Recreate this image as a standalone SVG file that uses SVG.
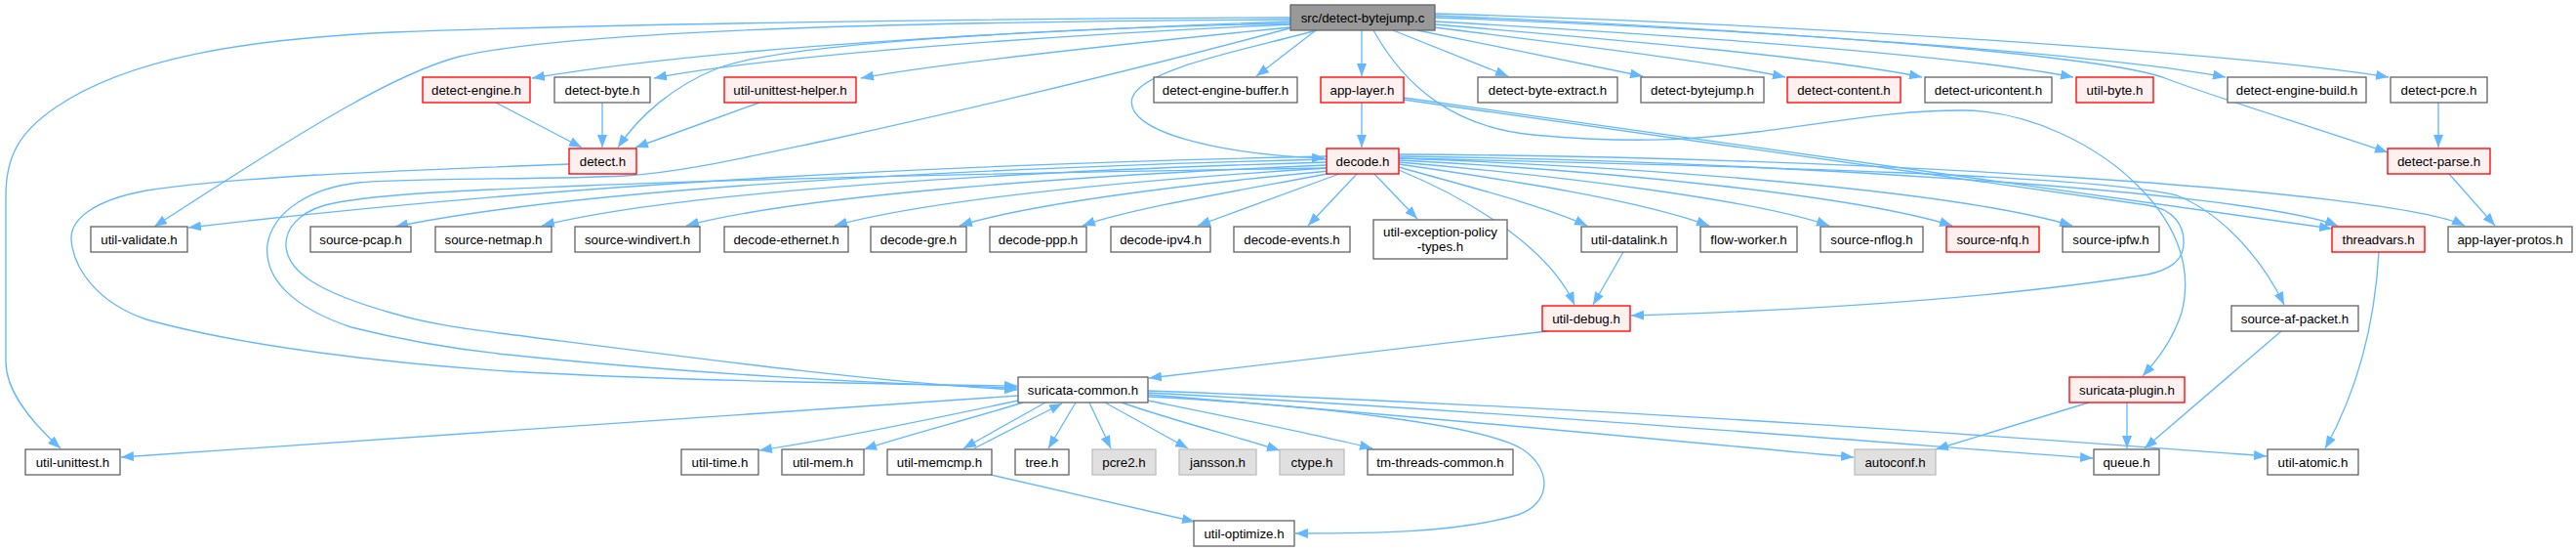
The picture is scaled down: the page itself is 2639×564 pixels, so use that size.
<svg xmlns="http://www.w3.org/2000/svg" width="2639" height="564" viewBox="0 0 2639 564">
<style>
.n rect{fill:#ffffff;stroke:#666666;stroke-width:1.33}
.r rect{fill:#fff0f0;stroke:#ff0000;stroke-width:1.33}
.g rect{fill:#e0e0e0;stroke:#bfbfbf;stroke-width:1.33}
.root rect{fill:#999999;stroke:#666666;stroke-width:1.33}
text{font-family:"Liberation Sans",Arial,Helvetica,sans-serif;font-size:13.33px;fill:#000000;text-anchor:middle}
#edges path{fill:none;stroke:#63b8ff;stroke-width:1.33;marker-end:url(#ah)}
</style>
<defs>
<marker id="ah" viewBox="0 0 13 10" refX="13" refY="5" markerWidth="13" markerHeight="10" markerUnits="userSpaceOnUse" orient="auto"><path d="M0,0L13,5L0,10z" fill="#63b8ff"/></marker>
</defs>
<rect width="2639" height="564" fill="#ffffff"/>
<g id="edges">
<path id="e_T_detect_engine" d="M1322,22 C1100,30 750,45 545,80"/>
<path id="e_T_detect_byte" d="M1322,25 C1100,35 800,55 670,80"/>
<path id="e_T_unittest_helper" d="M1322,28 C1150,45 960,65 882,80"/>
<path id="e_T_detect" d="M1322,24 C1050,30 800,45 735,70 C690,88 655,118 633,151"/>
<path id="e_T_engine_buffer" d="M1348,31 L1287,78"/>
<path id="e_T_app_layer" d="M1395,31 L1395,78"/>
<path id="e_T_byte_extract" d="M1427,31 L1545,78"/>
<path id="e_T_bytejump_h" d="M1452,31 L1683,78"/>
<path id="e_T_content" d="M1470,28 C1600,45 1750,62 1829,79"/>
<path id="e_T_uricontent" d="M1470,25 C1650,40 1880,60 1969,79"/>
<path id="e_T_util_byte" d="M1470,22 C1700,35 2000,55 2124,79"/>
<path id="e_T_engine_build" d="M1470,18 C1800,30 2150,55 2280,79"/>
<path id="e_T_pcre" d="M1470,14 C1850,25 2300,55 2447,79"/>
<path id="e_T_parse" d="M1470,16 C1800,30 2150,55 2218,80 C2270,100 2370,130 2446,156"/>
<path id="e_T_decode" d="M1349,31 C1280,50 1170,70 1160,100 C1150,135 1250,158 1357,162"/>
<path id="e_T_unittest" d="M1322,18 C1000,19 600,25 402,33 C250,40 130,60 57,110 C20,135 6,160 6,200 L6,370 C6,400 30,430 62,459"/>
<path id="e_T_validate" d="M1322,20 C1000,22 600,28 470,58 C410,74 330,120 158,232"/>
<path id="e_T_common" d="M1321,29 C1150,75 1000,110 850,143 C760,162 700,176 640,180 C560,184 420,182 367,187 C320,192 280,215 274,250 C270,285 300,315 360,335 C420,350 470,358 520,363 C700,382 900,393 1042,397"/>
<path id="e_T_plugin" d="M1407,31 C1440,90 1490,130 1570,138 C1680,148 1740,142 1800,135 C1880,125 1940,113 2010,113 C2080,113 2150,150 2190,190 C2235,235 2245,280 2235,320 C2225,350 2210,368 2195,385"/>
<path id="e_app_decode" d="M1395,105 L1395,151"/>
<path id="e_app_threadvars" d="M1438,100 L2389,234"/>
<path id="e_app_debug" d="M1438,102 L2200,210 C2228,214 2238,232 2237,250 C2236,268 2222,276 2200,281 C2080,300 1900,316 1671,323"/>
<path id="e_engine_detect" d="M508,105 L596,151"/>
<path id="e_byte_detect" d="M617,105 L617,151"/>
<path id="e_helper_detect" d="M778,105 L651,151"/>
<path id="e_detect_common" d="M583,168 C400,175 250,180 150,195 C95,205 72,225 73,245 C75,275 100,310 150,327 C250,355 400,372 520,380 C700,390 900,393 1042,395"/>
<path id="e_pcre_parse" d="M2498,105 L2498,151"/>
<path id="e_parse_protos" d="M2509,178 L2556,231"/>
<path id="e_D_validate" d="M1359,160 C1000,168 600,185 193,233"/>
<path id="e_D_pcap" d="M1359,163 C1000,172 600,192 405,232"/>
<path id="e_D_netmap" d="M1359,166 C1050,175 700,195 555,231"/>
<path id="e_D_windivert" d="M1359,169 C1100,180 820,200 703,231"/>
<path id="e_D_ethernet" d="M1360,172 C1150,185 950,205 855,231"/>
<path id="e_D_gre" d="M1362,175 C1200,190 1050,210 983,231"/>
<path id="e_D_ppp" d="M1365,177 C1270,195 1160,213 1109,231"/>
<path id="e_D_ipv4" d="M1372,178 L1227,231"/>
<path id="e_D_events" d="M1390,178 L1340,231"/>
<path id="e_D_exception" d="M1408,178 L1452,224"/>
<path id="e_D_debug" d="M1433,174 C1520,210 1590,260 1613,312"/>
<path id="e_D_datalink" d="M1433,171 C1500,190 1580,210 1626,231"/>
<path id="e_D_flow_worker" d="M1433,168 C1550,185 1680,205 1751,231"/>
<path id="e_D_nflog" d="M1433,166 C1600,180 1800,205 1874,231"/>
<path id="e_D_nfq" d="M1433,164 C1650,175 1900,200 2000,231"/>
<path id="e_D_ipfw" d="M1433,162 C1700,172 2000,195 2123,231"/>
<path id="e_D_threadvars" d="M1433,160 C1800,165 2300,195 2395,231"/>
<path id="e_D_protos" d="M1433,158 C1900,160 2450,195 2525,231"/>
<path id="e_D_afpacket" d="M1433,162 C1800,170 2150,180 2230,200 C2280,220 2320,270 2340,312"/>
<path id="e_D_common" d="M1359,172 C1100,176 800,182 600,190 C480,195 380,198 333,210 C305,218 292,235 293,252 C295,280 330,300 400,320 C440,332 480,337 520,342 C700,365 900,392 1042,399"/>
<path id="e_datalink_debug" d="M1663,258 L1632,312"/>
<path id="e_debug_common" d="M1585,339 L1177,387"/>
<path id="e_threadvars_atomic" d="M2437,258 C2433,330 2415,400 2382,459"/>
<path id="e_afpacket_queue" d="M2337,339 L2197,459"/>
<path id="e_plugin_autoconf" d="M2140,412 L1983,460"/>
<path id="e_plugin_queue" d="M2179,412 L2179,459"/>
<path id="e_S_unittest" d="M1043,405 L124,468"/>
<path id="e_S_time" d="M1043,410 C950,430 850,450 778,461"/>
<path id="e_S_mem" d="M1048,412 C990,430 930,445 885,460"/>
<path id="e_S_memcmp" d="M1071,412 L987,459"/>
<path id="e_memcmp_S" d="M998,459 L1088,413"/>
<path id="e_S_tree" d="M1102,412 L1074,459"/>
<path id="e_S_pcre2" d="M1116,412 L1138,459"/>
<path id="e_S_jansson" d="M1132,412 L1217,459"/>
<path id="e_S_ctype" d="M1149,412 C1200,430 1260,445 1311,461"/>
<path id="e_S_tm_threads" d="M1176,410 C1250,425 1350,445 1406,459"/>
<path id="e_S_optimize" d="M1176,406 C1350,415 1520,435 1560,460 C1590,480 1590,515 1555,527 C1490,546 1400,546 1327,546"/>
<path id="e_memcmp_optimize" d="M1015,486 L1224,534"/>
<path id="e_S_autoconf" d="M1176,404 C1500,430 1750,455 1899,468"/>
<path id="e_S_queue" d="M1176,402 C1600,425 1950,455 2144,469"/>
<path id="e_S_atomic" d="M1176,400 C1700,420 2100,450 2322,467"/>
</g>
<g id="n_root" class="root"><rect x="1322" y="5" width="148" height="26"/><text x="1396" y="22.7">src/detect-bytejump.c</text></g>
<g id="n_detect_engine" class="r"><rect x="433" y="79" width="110" height="26"/><text x="488" y="96.7">detect-engine.h</text></g>
<g id="n_detect_byte" class="n"><rect x="568" y="79" width="98" height="26"/><text x="617" y="96.7">detect-byte.h</text></g>
<g id="n_unittest_helper" class="r"><rect x="742" y="79" width="135" height="26"/><text x="809.5" y="96.7">util-unittest-helper.h</text></g>
<g id="n_engine_buffer" class="n"><rect x="1182" y="79" width="147" height="26"/><text x="1255.5" y="96.7">detect-engine-buffer.h</text></g>
<g id="n_app_layer" class="r"><rect x="1353" y="79" width="85" height="26"/><text x="1395.5" y="96.7">app-layer.h</text></g>
<g id="n_byte_extract" class="n"><rect x="1514" y="79" width="143" height="26"/><text x="1585.5" y="96.7">detect-byte-extract.h</text></g>
<g id="n_bytejump_h" class="n"><rect x="1681" y="79" width="126" height="26"/><text x="1744" y="96.7">detect-bytejump.h</text></g>
<g id="n_content" class="r"><rect x="1831" y="79" width="116" height="26"/><text x="1889" y="96.7">detect-content.h</text></g>
<g id="n_uricontent" class="n"><rect x="1972" y="79" width="130" height="26"/><text x="2037" y="96.7">detect-uricontent.h</text></g>
<g id="n_util_byte" class="r"><rect x="2127" y="79" width="79" height="26"/><text x="2166.5" y="96.7">util-byte.h</text></g>
<g id="n_engine_build" class="n"><rect x="2282" y="79" width="142" height="26"/><text x="2353" y="96.7">detect-engine-build.h</text></g>
<g id="n_pcre" class="n"><rect x="2449" y="79" width="99" height="26"/><text x="2498.5" y="96.7">detect-pcre.h</text></g>
<g id="n_detect" class="r"><rect x="583" y="152" width="69" height="26"/><text x="617.5" y="169.7">detect.h</text></g>
<g id="n_decode" class="r"><rect x="1359" y="152" width="74" height="26"/><text x="1396" y="169.7">decode.h</text></g>
<g id="n_parse" class="r"><rect x="2446" y="152" width="105" height="26"/><text x="2498.5" y="169.7">detect-parse.h</text></g>
<g id="n_validate" class="n"><rect x="93" y="232" width="99" height="26"/><text x="142.5" y="249.7">util-validate.h</text></g>
<g id="n_pcap" class="n"><rect x="318" y="232" width="103" height="26"/><text x="369.5" y="249.7">source-pcap.h</text></g>
<g id="n_netmap" class="n"><rect x="446" y="232" width="119" height="26"/><text x="505.5" y="249.7">source-netmap.h</text></g>
<g id="n_windivert" class="n"><rect x="589" y="232" width="128" height="26"/><text x="653" y="249.7">source-windivert.h</text></g>
<g id="n_ethernet" class="n"><rect x="742" y="232" width="127" height="26"/><text x="805.5" y="249.7">decode-ethernet.h</text></g>
<g id="n_gre" class="n"><rect x="892" y="232" width="98" height="26"/><text x="941" y="249.7">decode-gre.h</text></g>
<g id="n_ppp" class="n"><rect x="1014" y="232" width="99" height="26"/><text x="1063.5" y="249.7">decode-ppp.h</text></g>
<g id="n_ipv4" class="n"><rect x="1138" y="232" width="102" height="26"/><text x="1189" y="249.7">decode-ipv4.h</text></g>
<g id="n_events" class="n"><rect x="1264" y="232" width="119" height="26"/><text x="1323.5" y="249.7">decode-events.h</text></g>
<g id="n_exception" class="n"><rect x="1407" y="225" width="137" height="40"/><text x="1475.5" y="241.5">util-exception-policy</text><text x="1475.5" y="256.5">-types.h</text></g>
<g id="n_datalink" class="n"><rect x="1620" y="232" width="98" height="26"/><text x="1669" y="249.7">util-datalink.h</text></g>
<g id="n_flow_worker" class="n"><rect x="1742" y="232" width="99" height="26"/><text x="1791.5" y="249.7">flow-worker.h</text></g>
<g id="n_nflog" class="n"><rect x="1865" y="232" width="105" height="26"/><text x="1917.5" y="249.7">source-nflog.h</text></g>
<g id="n_nfq" class="r"><rect x="1994" y="232" width="95" height="26"/><text x="2041.5" y="249.7">source-nfq.h</text></g>
<g id="n_ipfw" class="n"><rect x="2113" y="232" width="99" height="26"/><text x="2162.5" y="249.7">source-ipfw.h</text></g>
<g id="n_threadvars" class="r"><rect x="2389" y="232" width="95" height="26"/><text x="2436.5" y="249.7">threadvars.h</text></g>
<g id="n_protos" class="n"><rect x="2508" y="232" width="127" height="26"/><text x="2571.5" y="249.7">app-layer-protos.h</text></g>
<g id="n_debug" class="r"><rect x="1580" y="313" width="90" height="26"/><text x="1625" y="330.7">util-debug.h</text></g>
<g id="n_afpacket" class="n"><rect x="2286" y="313" width="130" height="26"/><text x="2351" y="330.7">source-af-packet.h</text></g>
<g id="n_common" class="n"><rect x="1043" y="386" width="133" height="26"/><text x="1109.5" y="403.7">suricata-common.h</text></g>
<g id="n_plugin" class="r"><rect x="2120" y="386" width="118" height="26"/><text x="2179" y="403.7">suricata-plugin.h</text></g>
<g id="n_unittest" class="n"><rect x="26" y="460" width="97" height="26"/><text x="74.5" y="477.7">util-unittest.h</text></g>
<g id="n_time" class="n"><rect x="698" y="460" width="79" height="26"/><text x="737.5" y="477.7">util-time.h</text></g>
<g id="n_mem" class="n"><rect x="801" y="460" width="84" height="26"/><text x="843" y="477.7">util-mem.h</text></g>
<g id="n_memcmp" class="n"><rect x="909" y="460" width="107" height="26"/><text x="962.5" y="477.7">util-memcmp.h</text></g>
<g id="n_tree" class="n"><rect x="1040" y="460" width="55" height="26"/><text x="1067.5" y="477.7">tree.h</text></g>
<g id="n_pcre2" class="g"><rect x="1119" y="460" width="65" height="26"/><text x="1151.5" y="477.7">pcre2.h</text></g>
<g id="n_jansson" class="g"><rect x="1208" y="460" width="79" height="26"/><text x="1247.5" y="477.7">jansson.h</text></g>
<g id="n_ctype" class="g"><rect x="1311" y="460" width="66" height="26"/><text x="1344" y="477.7">ctype.h</text></g>
<g id="n_tm_threads" class="n"><rect x="1401" y="460" width="149" height="26"/><text x="1475.5" y="477.7">tm-threads-common.h</text></g>
<g id="n_autoconf" class="g"><rect x="1900" y="460" width="83" height="26"/><text x="1941.5" y="477.7">autoconf.h</text></g>
<g id="n_queue" class="n"><rect x="2145" y="460" width="67" height="26"/><text x="2178.5" y="477.7">queue.h</text></g>
<g id="n_atomic" class="n"><rect x="2323" y="460" width="93" height="26"/><text x="2369.5" y="477.7">util-atomic.h</text></g>
<g id="n_optimize" class="n"><rect x="1223" y="533" width="103" height="26"/><text x="1274.5" y="550.7">util-optimize.h</text></g>
</svg>
